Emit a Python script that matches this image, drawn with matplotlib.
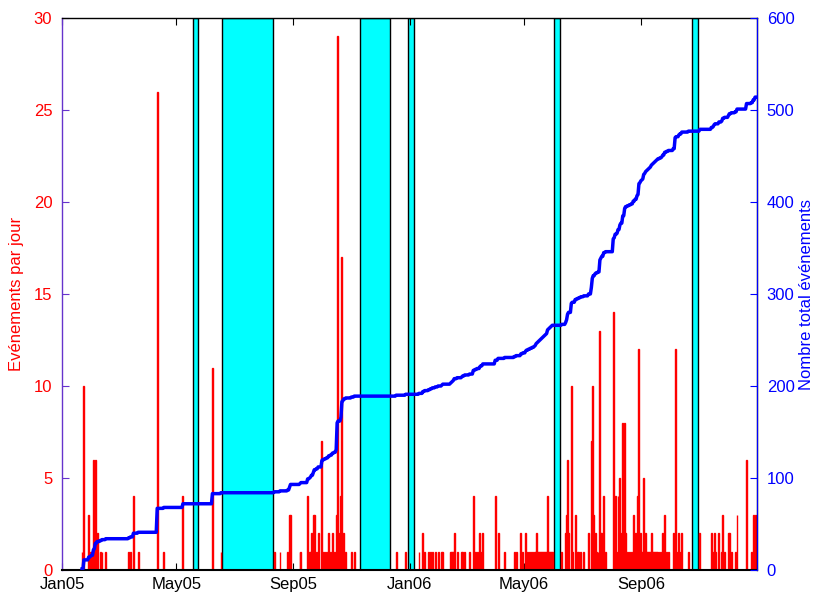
import datetime as dt
import numpy as np
import matplotlib
matplotlib.use("Agg")
from matplotlib import pyplot as plt
import matplotlib.dates as mdates

plt.rcParams['font.family'] = ['Liberation Sans', 'DejaVu Sans']
plt.rcParams['font.size'] = 12

start = dt.date(2005, 1, 1)
end = dt.date(2007, 1, 1)

# days since 2005-01-01 that have events, and the number of events that day
event_day = [21, 23, 28, 30, 31, 33, 34, 35, 37, 40, 42, 46, 70, 72, 75, 80, 100, 107, 127,
             158, 167, 223, 229, 237, 239, 240, 250, 251, 258, 260, 261, 262, 264, 265, 267,
             269, 273, 274, 276, 278, 280, 282, 284, 286, 288, 289, 290, 293, 294, 295, 296,
             298, 304, 307, 351, 361, 375, 379, 381, 385, 387, 389, 392, 395, 399, 400, 408,
             409, 410, 411, 412, 415, 420, 421, 423, 428, 432, 434, 436, 439, 440, 442, 455,
             458, 465, 475, 477, 482, 484, 487, 488, 490, 492, 494, 496, 497, 498, 499, 500,
             501, 502, 503, 504, 505, 506, 507, 508, 509, 510, 511, 512, 513, 514, 515,
             525, 529, 530, 531, 532, 535, 536, 539, 541, 543, 545, 548, 553,
             556, 557, 558, 560, 561, 563, 565, 566, 567, 569, 571, 579, 580, 581, 583, 584,
             586, 587, 589, 591, 592, 594, 596, 598, 600, 602, 604, 605, 606, 607, 608, 609,
             610, 611, 612, 613, 614, 615, 616, 617, 618, 619, 620, 621, 622, 623, 624, 625,
             626, 628, 630, 631, 633, 635, 637, 642, 644, 645, 648, 649, 651, 658, 670, 682,
             684, 685, 686, 690, 693, 694, 696, 700, 701, 703, 707, 709, 719, 724, 726, 728]
event_count = [1, 10, 3, 1, 1, 6, 1, 6, 2, 1, 1, 1, 1, 1, 4, 1, 26, 1, 4,
               11, 1, 1, 1, 1, 3, 3, 1, 1, 4, 1, 1, 2, 3, 3, 1,
               2, 7, 1, 1, 1, 2, 1, 2, 1, 3, 29, 2, 4, 17, 1, 2,
               1, 1, 1, 1, 1, 1, 2, 1, 1, 1, 1, 1, 1, 1, 1, 1,
               1, 1, 1, 2, 1, 1, 1, 1, 1, 4, 1, 1, 2, 1, 2, 4,
               2, 1, 1, 1, 2, 1, 2, 1, 1, 1, 1, 1, 1, 2, 1, 1,
               1, 1, 1, 1, 1, 1, 1, 1, 1, 4, 1, 1, 1, 1, 1,
               1, 2, 3, 6, 2, 10, 1, 3, 1, 1, 1, 1, 2,
               7, 10, 3, 2, 1, 1, 13, 2, 2, 4, 1, 14, 1, 4, 1, 4,
               5, 2, 8, 8, 2, 1, 1, 1, 3, 2, 4, 1, 12, 1, 2, 1,
               1, 5, 1, 2, 1, 1, 1, 1, 1, 2, 1, 1, 1, 1, 1, 1,
               1, 1, 1, 2, 3, 1, 1, 2, 12, 1, 2, 1, 2, 1, 2, 2,
               1, 2, 1, 2, 1, 3, 1, 2, 2, 1, 1, 3, 6, 1, 3, 3]

# periods without data (shaded), in days since 2005-01-01
gap_start = [137.6, 168.0, 313.0, 363.4, 516.8, 661.8]
gap_end = [142.9, 221.6, 344.5, 369.7, 523.0, 668.0]

tick_dates = [dt.date(2005, 1, 1), dt.date(2005, 5, 1), dt.date(2005, 9, 1),
              dt.date(2006, 1, 1), dt.date(2006, 5, 1), dt.date(2006, 9, 1)]

# daily totals and running total
n_days = (end - start).days
daily = np.zeros(n_days + 1)
for d, c in zip(event_day, event_count):
    daily[d] += c
first = event_day[0]
cum_days = np.arange(first, n_days + 1)
cum = np.cumsum(daily[first:])

t0 = mdates.date2num(start)

fig = plt.figure(figsize=(8.18, 5.92), dpi=100)
ax = fig.add_axes([62 / 818, 22 / 592, 695 / 818, 552 / 592])

for a, b in zip(gap_start, gap_end):
    ax.axvspan(t0 + a, t0 + b, facecolor='#00ffff', edgecolor='k', linewidth=1.0, zorder=1)

ax.bar(t0 + np.array(event_day), event_count, width=1.0, color='red',
       edgecolor='red', linewidth=1.0, zorder=2)

ax.set_xlim(t0, mdates.date2num(end))
ax.set_ylim(0, 30)
ax.set_yticks(range(0, 31, 5))
ax.set_xticks([mdates.date2num(d) for d in tick_dates])
ax.xaxis.set_major_formatter(mdates.DateFormatter('%b%y'))
ax.tick_params(axis='x', direction='in', length=5, top=True, colors='k', pad=5)
ax.tick_params(axis='y', direction='in', length=5, colors='#6633cc', labelcolor='red', pad=7)
ax.set_ylabel('Evénements par jour', color='red', labelpad=7)
ax.spines['left'].set_color('#6633cc')

ax2 = ax.twinx()
ax2.plot(t0 + cum_days, cum, color='#0000ff', linewidth=2.5, zorder=3)
ax2.set_ylim(0, 600)
ax2.set_yticks(range(0, 601, 100))
ax2.tick_params(axis='y', direction='in', length=5, colors='#0000ff', pad=7)
ax2.set_ylabel('Nombre total événements', color='#0000ff', labelpad=3)
ax2.spines['right'].set_color('#0000ff')
ax2.spines['left'].set_visible(False)
ax2.spines['top'].set_visible(False)
ax2.spines['bottom'].set_visible(False)
for s in ax.spines.values():
    s.set_linewidth(1.0)
ax.spines['bottom'].set_linewidth(1.5)

fig.savefig('out.png', dpi=100)
